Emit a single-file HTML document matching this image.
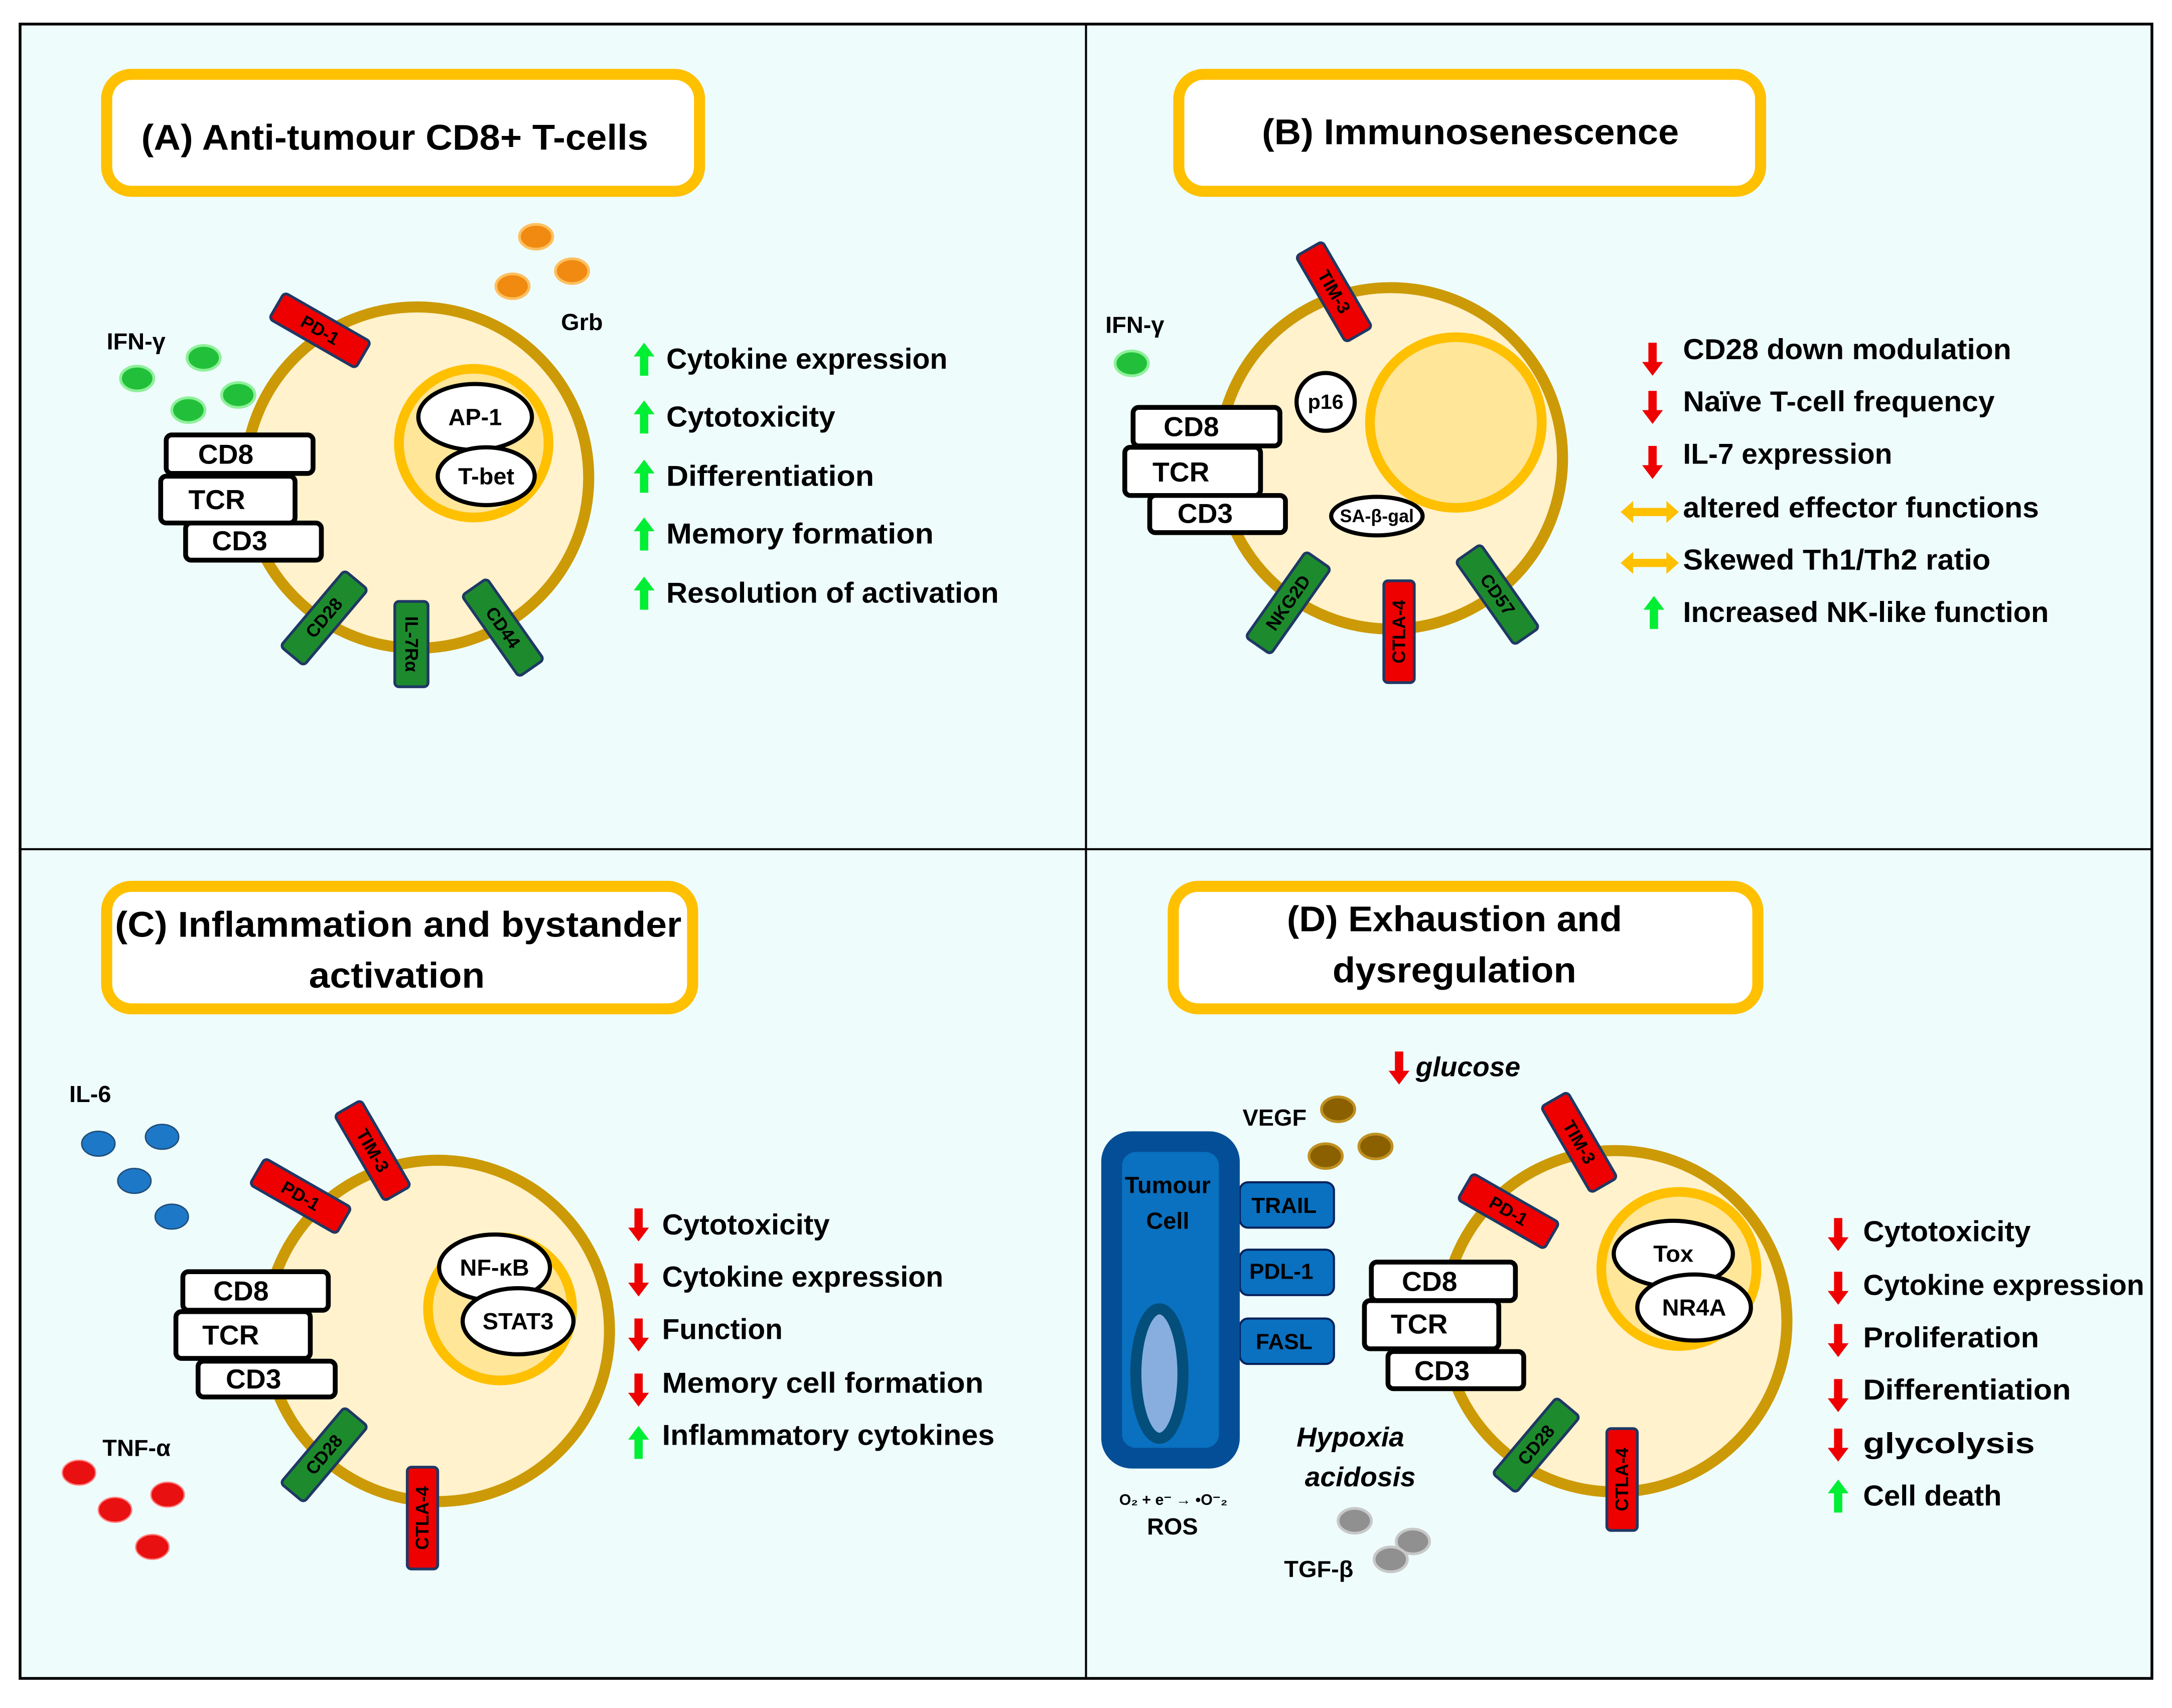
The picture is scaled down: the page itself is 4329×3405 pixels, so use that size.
<!DOCTYPE html>
<html><head><meta charset="utf-8"><style>
html,body{margin:0;padding:0;background:#fff;}
svg{display:block;}
text{font-family:"Liberation Sans",sans-serif;font-weight:bold;fill:#000;}
</style></head><body>
<svg width="4329" height="3405" viewBox="0 0 1568 1241" preserveAspectRatio="none" xmlns="http://www.w3.org/2000/svg">
<defs>
<path id="up" d="M0,-12 L7.5,-2 L3,-2 L3,12 L-3,12 L-3,-2 L-7.5,-2 Z" fill="#00ee33"/>
<path id="dn" d="M0,12 L7.5,2 L3,2 L3,-12 L-3,-12 L-3,2 L-7.5,2 Z" fill="#ee0000"/>
<path id="lr" d="M-21,0 L-12,-8 L-12,-3 L12,-3 L12,-8 L21,0 L12,8 L12,3 L-12,3 L-12,8 Z" fill="#ffc000"/>
</defs>
<rect x="0" y="0" width="1568" height="1241" fill="#fff"/>
<rect x="14.5" y="17.5" width="1539" height="1202" fill="#eefcfc" stroke="#000" stroke-width="2"/>
<line x1="784" y1="17" x2="784" y2="1219" stroke="#000" stroke-width="1.5"/>
<line x1="14" y1="617" x2="1553" y2="617" stroke="#000" stroke-width="1.5"/>

<!-- titles -->
<g fill="#fff" stroke="#ffc000" stroke-width="8">
<rect x="77" y="54" width="428" height="85" rx="18"/>
<rect x="851" y="54" width="420" height="85" rx="18"/>
<rect x="77" y="644" width="423" height="89" rx="18"/>
<rect x="847" y="644" width="422" height="89" rx="18"/>
</g>
<g font-size="26" dominant-baseline="central">
<text x="102" y="100" textLength="366" lengthAdjust="spacingAndGlyphs">(A) Anti-tumour CD8+ T-cells</text>
<text x="911" y="96" textLength="301" lengthAdjust="spacingAndGlyphs">(B) Immunosenescence</text>
<text x="83" y="672" textLength="409" lengthAdjust="spacingAndGlyphs">(C) Inflammation and bystander</text>
<text x="223" y="709" textLength="127" lengthAdjust="spacingAndGlyphs">activation</text>
<text x="929" y="668" textLength="242" lengthAdjust="spacingAndGlyphs">(D) Exhaustion and</text>
<text x="962" y="705" textLength="176" lengthAdjust="spacingAndGlyphs">dysregulation</text>
</g>

<!-- cells -->
<g fill="#fff2cc" stroke="#cc9a06" stroke-width="8">
<circle cx="301" cy="347" r="124"/>
<circle cx="1004" cy="333" r="124"/>
<circle cx="316" cy="967" r="124"/>
<circle cx="1166" cy="960" r="124"/>
</g>
<g fill="#ffe699" stroke="#ffc000" stroke-width="7">
<circle cx="342" cy="322" r="54"/>
<circle cx="1051" cy="307" r="62"/>
<circle cx="361" cy="951" r="52"/>
<circle cx="1212" cy="922" r="56"/>
</g>

<!-- nuclear ellipses -->
<g fill="#fff" stroke="#000" stroke-width="3">
<ellipse cx="343" cy="303" rx="41" ry="24"/>
<ellipse cx="351" cy="346" rx="35" ry="21"/>
<circle cx="957" cy="292" r="21"/>
<ellipse cx="994" cy="375" rx="33" ry="14"/>
<ellipse cx="357" cy="921" rx="40" ry="24"/>
<ellipse cx="374" cy="960" rx="40" ry="24"/>
<ellipse cx="1208" cy="911" rx="43" ry="24"/>
<ellipse cx="1223" cy="950" rx="41" ry="24"/>
</g>
<g font-size="17" text-anchor="middle" dominant-baseline="central">
<text x="343" y="303">AP-1</text>
<text x="351" y="346">T-bet</text>
<text x="957" y="292" font-size="15">p16</text>
<text x="994" y="375" font-size="13">SA-β-gal</text>
<text x="357" y="921">NF-κB</text>
<text x="374" y="960">STAT3</text>
<text x="1208" y="911">Tox</text>
<text x="1223" y="950">NR4A</text>
</g>

<!-- CD8/TCR/CD3 boxes -->
<g fill="#fff" stroke="#000" stroke-width="3.5">
<rect x="134" y="380" width="98" height="27" rx="4"/>
<rect x="116" y="346" width="97" height="34" rx="4"/>
<rect x="120" y="316" width="106" height="28" rx="4"/>
<rect x="830" y="360" width="98" height="27" rx="4"/>
<rect x="812" y="325" width="98" height="35" rx="4"/>
<rect x="818" y="296" width="106" height="28" rx="4"/>
<rect x="143" y="989" width="99" height="26" rx="4"/>
<rect x="127" y="953" width="97" height="34" rx="4"/>
<rect x="132" y="924" width="105" height="28" rx="4"/>
<rect x="1002" y="982" width="98" height="27" rx="4"/>
<rect x="985" y="945" width="97" height="35" rx="4"/>
<rect x="990" y="917" width="104" height="28" rx="4"/>
</g>
<g font-size="20" dominant-baseline="central">
<text x="143" y="330">CD8</text><text x="136" y="363">TCR</text><text x="153" y="393">CD3</text>
<text x="840" y="310">CD8</text><text x="832" y="343">TCR</text><text x="850" y="373">CD3</text>
<text x="154" y="938">CD8</text><text x="146" y="970">TCR</text><text x="163" y="1002">CD3</text>
<text x="1012" y="931">CD8</text><text x="1004" y="962">TCR</text><text x="1021" y="996">CD3</text>
</g>

<!-- receptors -->
<g stroke="#1f3864" stroke-width="2" font-size="13" text-anchor="middle" dominant-baseline="central">
<g transform="translate(231,240) rotate(30)"><rect x="-36" y="-11" width="72" height="22" rx="3" fill="#ee0000"/><text x="0" y="0" stroke="none">PD-1</text></g>
<g transform="translate(234,449) rotate(-50)"><rect x="-36" y="-11" width="72" height="22" rx="3" fill="#1e8a2e"/><text x="0" y="0" stroke="none">CD28</text></g>
<g transform="translate(297,468) rotate(90)"><rect x="-31" y="-12" width="62" height="24" rx="3" fill="#1e8a2e"/><text x="0" y="0" stroke="none">IL-7Rα</text></g>
<g transform="translate(363,456) rotate(55)"><rect x="-36" y="-11" width="72" height="22" rx="3" fill="#1e8a2e"/><text x="0" y="0" stroke="none">CD44</text></g>

<g transform="translate(963,212) rotate(60)"><rect x="-36" y="-11" width="72" height="22" rx="3" fill="#ee0000"/><text x="0" y="0" stroke="none">TIM-3</text></g>
<g transform="translate(930,438) rotate(-55)"><rect x="-38" y="-11" width="76" height="22" rx="3" fill="#1e8a2e"/><text x="0" y="0" stroke="none">NKG2D</text></g>
<g transform="translate(1010,459) rotate(-90)"><rect x="-37" y="-11" width="74" height="22" rx="3" fill="#ee0000"/><text x="0" y="0" stroke="none">CTLA-4</text></g>
<g transform="translate(1081,432) rotate(55)"><rect x="-37" y="-11" width="74" height="22" rx="3" fill="#1e8a2e"/><text x="0" y="0" stroke="none">CD57</text></g>

<g transform="translate(217,869) rotate(30)"><rect x="-36" y="-11" width="72" height="22" rx="3" fill="#ee0000"/><text x="0" y="0" stroke="none">PD-1</text></g>
<g transform="translate(269,836) rotate(60)"><rect x="-36" y="-11" width="72" height="22" rx="3" fill="#ee0000"/><text x="0" y="0" stroke="none">TIM-3</text></g>
<g transform="translate(234,1057) rotate(-50)"><rect x="-36" y="-11" width="72" height="22" rx="3" fill="#1e8a2e"/><text x="0" y="0" stroke="none">CD28</text></g>
<g transform="translate(305,1103) rotate(-90)"><rect x="-37" y="-11" width="74" height="22" rx="3" fill="#ee0000"/><text x="0" y="0" stroke="none">CTLA-4</text></g>

<g transform="translate(1140,830) rotate(60)"><rect x="-36" y="-11" width="72" height="22" rx="3" fill="#ee0000"/><text x="0" y="0" stroke="none">TIM-3</text></g>
<g transform="translate(1089,880) rotate(30)"><rect x="-36" y="-11" width="72" height="22" rx="3" fill="#ee0000"/><text x="0" y="0" stroke="none">PD-1</text></g>
<g transform="translate(1109,1050) rotate(-50)"><rect x="-36" y="-11" width="72" height="22" rx="3" fill="#1e8a2e"/><text x="0" y="0" stroke="none">CD28</text></g>
<g transform="translate(1171,1075) rotate(-90)"><rect x="-37" y="-11" width="74" height="22" rx="3" fill="#ee0000"/><text x="0" y="0" stroke="none">CTLA-4</text></g>
</g>

<!-- cytokine dots -->
<g fill="#22c03a" stroke="#8ff09a" stroke-width="2">
<ellipse cx="147" cy="260" rx="12" ry="9"/><ellipse cx="99" cy="275" rx="12" ry="9"/>
<ellipse cx="136" cy="298" rx="12" ry="9"/><ellipse cx="172" cy="287" rx="12" ry="9"/>
<ellipse cx="817" cy="264" rx="12" ry="9"/>
</g>
<g fill="#f08a10" stroke="#ffc060" stroke-width="2">
<ellipse cx="387" cy="172" rx="12" ry="9"/><ellipse cx="413" cy="197" rx="12" ry="9"/><ellipse cx="370" cy="208" rx="12" ry="9"/>
</g>
<g fill="#1e78c8" stroke="#1f4e79" stroke-width="1">
<ellipse cx="71" cy="831" rx="12" ry="9"/><ellipse cx="117" cy="826" rx="12" ry="9"/>
<ellipse cx="97" cy="858" rx="12" ry="9"/><ellipse cx="124" cy="884" rx="12" ry="9"/>
</g>
<g fill="#e81010" stroke="#ff8080" stroke-width="1">
<ellipse cx="57" cy="1070" rx="12" ry="9"/><ellipse cx="121" cy="1086" rx="12" ry="9"/>
<ellipse cx="83" cy="1097" rx="12" ry="9"/><ellipse cx="110" cy="1124" rx="12" ry="9"/>
</g>
<g fill="#8a6000" stroke="#c09020" stroke-width="2">
<ellipse cx="966" cy="806" rx="12" ry="9"/><ellipse cx="957" cy="840" rx="12" ry="9"/><ellipse cx="993" cy="833" rx="12" ry="9"/>
</g>
<g fill="#909090" stroke="#c8c8c8" stroke-width="2">
<ellipse cx="978" cy="1105" rx="12" ry="9"/><ellipse cx="1020" cy="1120" rx="12" ry="9"/><ellipse cx="1004" cy="1133" rx="12" ry="9"/>
</g>

<g font-size="17" dominant-baseline="central">
<text x="77" y="248">IFN-γ</text>
<text x="405" y="234">Grb</text>
<text x="798" y="236">IFN-γ</text>
<text x="50" y="795">IL-6</text>
<text x="74" y="1052">TNF-α</text>
<text x="897" y="812">VEGF</text>
<text x="927" y="1140">TGF-β</text>
<text x="828" y="1109">ROS</text>
<text x="808" y="1090" font-size="11" font-weight="normal">O₂ + e⁻ → •O⁻₂</text>
<text x="1022" y="775" font-style="italic" font-size="20">glucose</text>
<text x="936" y="1044" font-style="italic" font-size="20">Hypoxia</text>
<text x="942" y="1073" font-style="italic" font-size="20">acidosis</text>
</g>
<use href="#dn" x="1010" y="776"/>

<!-- tumour cell -->
<g stroke="#06205a" stroke-width="1.5">
<rect x="895" y="859" width="68" height="33" rx="6" fill="#0a70c0"/>
<rect x="895" y="908" width="68" height="33" rx="6" fill="#0a70c0"/>
<rect x="895" y="958" width="68" height="33" rx="6" fill="#0a70c0"/>
</g>
<rect x="795" y="822" width="100" height="245" rx="22" fill="#034e96"/>
<rect x="810" y="837" width="70" height="215" rx="10" fill="#0a70c0"/>
<ellipse cx="837" cy="998" rx="17" ry="47" fill="#88aee0" stroke="#034e7a" stroke-width="8"/>
<g font-size="17" text-anchor="middle" dominant-baseline="central">
<text x="843" y="861">Tumour</text><text x="843" y="887">Cell</text>
<text x="927" y="876" font-size="16">TRAIL</text>
<text x="925" y="924" font-size="16">PDL-1</text>
<text x="927" y="975" font-size="16">FASL</text>
</g>

<!-- lists -->
<g font-size="21" dominant-baseline="central" lengthAdjust="spacingAndGlyphs">
<use href="#up" x="465" y="261"/><text x="481" y="261" textLength="203" lengthAdjust="spacingAndGlyphs">Cytokine expression</text>
<use href="#up" x="465" y="303"/><text x="481" y="303" textLength="122" lengthAdjust="spacingAndGlyphs">Cytotoxicity</text>
<use href="#up" x="465" y="346"/><text x="481" y="346" textLength="150" lengthAdjust="spacingAndGlyphs">Differentiation</text>
<use href="#up" x="465" y="388"/><text x="481" y="388" textLength="193" lengthAdjust="spacingAndGlyphs">Memory formation</text>
<use href="#up" x="465" y="431"/><text x="481" y="431" textLength="240" lengthAdjust="spacingAndGlyphs">Resolution of activation</text>

<use href="#dn" x="1193" y="261"/><text x="1215" y="254" textLength="237" lengthAdjust="spacingAndGlyphs">CD28 down modulation</text>
<use href="#dn" x="1193" y="296"/><text x="1215" y="292" textLength="225" lengthAdjust="spacingAndGlyphs">Naïve T-cell frequency</text>
<use href="#dn" x="1193" y="336"/><text x="1215" y="330" textLength="151" lengthAdjust="spacingAndGlyphs">IL-7 expression</text>
<use href="#lr" x="1191" y="372"/><text x="1215" y="369" textLength="257" lengthAdjust="spacingAndGlyphs">altered effector functions</text>
<use href="#lr" x="1191" y="409"/><text x="1215" y="407" textLength="222" lengthAdjust="spacingAndGlyphs">Skewed Th1/Th2 ratio</text>
<use href="#up" x="1194" y="445"/><text x="1215" y="445" textLength="264" lengthAdjust="spacingAndGlyphs">Increased NK-like function</text>

<use href="#dn" x="461" y="890"/><text x="478" y="890" textLength="121" lengthAdjust="spacingAndGlyphs">Cytotoxicity</text>
<use href="#dn" x="461" y="930"/><text x="478" y="928" textLength="203" lengthAdjust="spacingAndGlyphs">Cytokine expression</text>
<use href="#dn" x="461" y="970"/><text x="478" y="966" textLength="87" lengthAdjust="spacingAndGlyphs">Function</text>
<use href="#dn" x="461" y="1010"/><text x="478" y="1005" textLength="232" lengthAdjust="spacingAndGlyphs">Memory cell formation</text>
<use href="#up" x="461" y="1048"/><text x="478" y="1043" textLength="240" lengthAdjust="spacingAndGlyphs">Inflammatory cytokines</text>

<use href="#dn" x="1327" y="897"/><text x="1345" y="895" textLength="121" lengthAdjust="spacingAndGlyphs">Cytotoxicity</text>
<use href="#dn" x="1327" y="936"/><text x="1345" y="934" textLength="203" lengthAdjust="spacingAndGlyphs">Cytokine expression</text>
<use href="#dn" x="1327" y="974"/><text x="1345" y="972" textLength="127" lengthAdjust="spacingAndGlyphs">Proliferation</text>
<use href="#dn" x="1327" y="1014"/><text x="1345" y="1010" textLength="150" lengthAdjust="spacingAndGlyphs">Differentiation</text>
<use href="#dn" x="1327" y="1050"/><text x="1345" y="1049" textLength="124" lengthAdjust="spacingAndGlyphs">glycolysis</text>
<use href="#up" x="1327" y="1087"/><text x="1345" y="1087" textLength="100" lengthAdjust="spacingAndGlyphs">Cell death</text>
</g>
</svg>
</body></html>
